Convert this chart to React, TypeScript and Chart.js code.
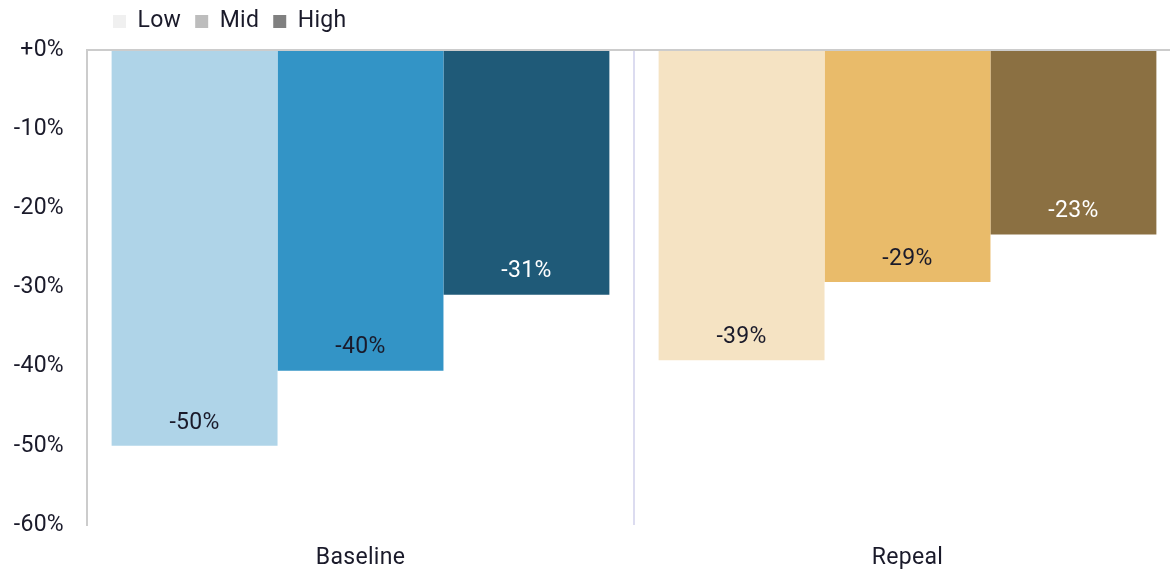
import React, { useEffect, useRef } from "react";
import { Chart, registerables } from "chart.js";

Chart.register(...registerables);

const categories = ["Baseline", "Repeal"];
const seriesNames = ["Low", "Mid", "High"];
const lowValues = [-50.0, -39.2];
const midValues = [-40.5, -29.3];
const highValues = [-30.9, -23.3];
const labelTexts = [
  ["-50%", "-39%"],
  ["-40%", "-29%"],
  ["-31%", "-23%"],
];
const barColors = [
  ["#afd4e8", "#f5e3c3"],
  ["#3394c6", "#e9bb6a"],
  ["#1f5a78", "#8b7042"],
];
const labelColors = [
  ["#1a1a2a", "#1a1a2a"],
  ["#1a1a2a", "#1a1a2a"],
  ["#ffffff", "#ffffff"],
];
const legendColors = ["#f0f0f0", "#bdbdbd", "#808080"];
const yTicks = [0, -10, -20, -30, -40, -50, -60];

const FONT = "Roboto, 'Noto Sans', sans-serif";
const FS = 23;
const SPACING = "0.3px";
const TEXT = "#1a1a2a";

const spacingPlugin = {
  id: "spacing",
  beforeLayout(chart: any) {
    (chart.ctx as any).letterSpacing = SPACING;
  },
  beforeDraw(chart: any) {
    (chart.ctx as any).letterSpacing = SPACING;
  },
};

const valueLabelPlugin = {
  id: "valueLabels",
  afterDatasetsDraw(chart: any) {
    const ctx = chart.ctx;
    ctx.save();
    ctx.font = `${FS}px ${FONT}`;
    ctx.textAlign = "center";
    ctx.textBaseline = "middle";
    chart.data.datasets.forEach((ds: any, di: number) => {
      const meta = chart.getDatasetMeta(di);
      meta.data.forEach((bar: any, i: number) => {
        ctx.fillStyle = labelColors[di][i];
        ctx.fillText(labelTexts[di][i], bar.x, bar.y - 23);
      });
    });
    ctx.restore();
  },
};

const legendPatchPlugin = {
  id: "legendPatch",
  afterUpdate(chart: any) {
    const lg = chart.legend;
    if (lg && !lg._patched) {
      const origDraw = lg.draw.bind(lg);
      lg.draw = function (...args: any[]) {
        const ctx = chart.ctx;
        ctx.save();
        ctx.translate(99, -4);
        origDraw(...args);
        ctx.restore();
      };
      lg._patched = true;
    }
  },
};

export default function App() {
  const ref = useRef<HTMLCanvasElement | null>(null);
  useEffect(() => {
    if (!ref.current) return;
    const datasets = [lowValues, midValues, highValues].map((vals, di) => ({
      label: seriesNames[di],
      data: vals,
      backgroundColor: barColors[di],
      borderWidth: 0,
      categoryPercentage: 0.91,
      barPercentage: 1,
    }));
    const chart = new Chart(ref.current, {
      type: "bar",
      data: { labels: categories, datasets },
      plugins: [spacingPlugin, valueLabelPlugin, legendPatchPlugin],
      options: {
        animation: false,
        responsive: true,
        maintainAspectRatio: false,
        layout: { padding: 0 },
        plugins: {
          tooltip: { enabled: false },
          legend: {
            position: "top",
            align: "start",
            labels: {
              boxWidth: 13,
              boxHeight: 13,
              padding: 14,
              color: TEXT,
              font: { size: FS, family: FONT },
              generateLabels: () =>
                seriesNames.map((n, i) => ({
                  text: n,
                  fillStyle: legendColors[i],
                  strokeStyle: legendColors[i],
                  lineWidth: 0,
                  hidden: false,
                  datasetIndex: i,
                  fontColor: TEXT,
                })),
            },
          },
        },
        scales: {
          x: {
            grid: {
              offset: true,
              drawTicks: false,
              lineWidth: 2,
              color: (c: any) => (c.index === 0 ? "rgba(0,0,0,0)" : "#dcdcf0"),
            },
            border: { display: false },
            ticks: {
              padding: 19,
              color: TEXT,
              font: { size: FS, family: FONT },
            },
            afterFit: (s: any) => {
              s.height = 46;
            },
          },
          y: {
            min: -60,
            max: 0,
            afterBuildTicks: (s: any) => {
              s.ticks = yTicks.map((v) => ({ value: v }));
            },
            grid: {
              drawTicks: false,
              lineWidth: 2,
              color: (c: any) => (c.tick && c.tick.value === 0 ? "#cccccc" : "rgba(0,0,0,0)"),
            },
            border: { display: true, color: "#cccccc", width: 2 },
            ticks: {
              padding: 23,
              color: TEXT,
              font: { size: FS, family: FONT },
              callback: (v: any) => (Number(v) === 0 ? "+0%" : `${v}%`),
            },
            afterFit: (s: any) => {
              s.width = 87;
            },
          },
        },
      },
    } as any);
    const lg: any = chart.legend;
    if (lg) {
      const origFit = lg.fit.bind(lg);
      lg.fit = function () {
        origFit();
        this.height = 50;
      };
      chart.update();
    }
    return () => chart.destroy();
  }, []);
  return (
    <div style={{ position: "fixed", left: 0, top: 0, width: 1170, height: 571, overflow: "hidden", background: "#fff" }}>
      <div style={{ position: "relative", width: 1181, height: 571 }}>
        <canvas ref={ref} />
      </div>
    </div>
  );
}
